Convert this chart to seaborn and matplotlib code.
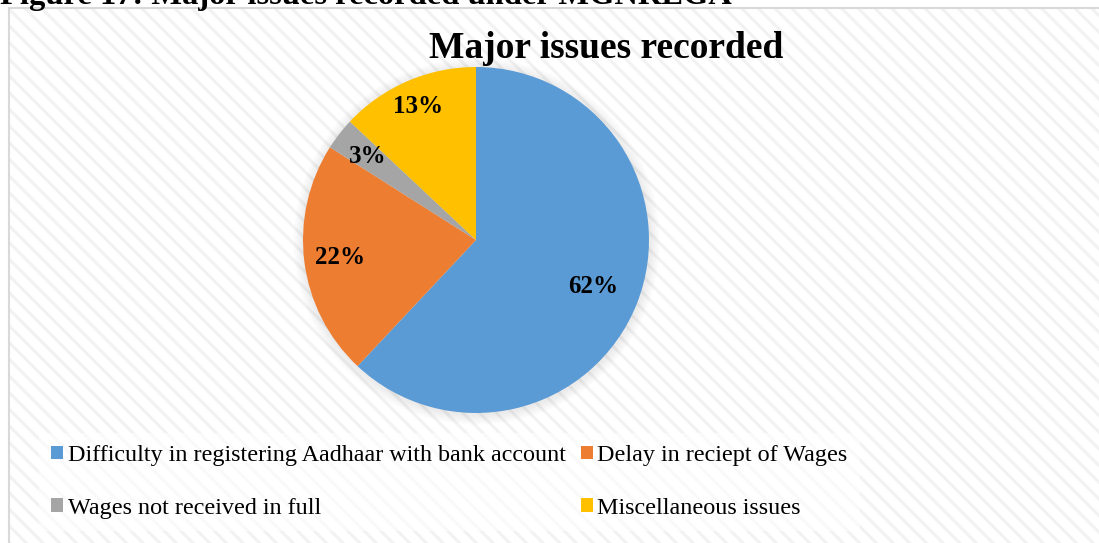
import matplotlib
matplotlib.use("Agg")
import matplotlib.pyplot as plt
from matplotlib.patches import Rectangle, Circle, Patch
import numpy as np
import seaborn as sns

# Survey shares of the major issues reported
categories = [
    "Difficulty in registering Aadhaar with bank account",
    "Delay in reciept of Wages",
    "Wages not received in full",
    "Miscellaneous issues",
]
shares = [62, 22, 3, 13]
colors = ["#5B9BD5", "#ED7D31", "#A5A5A5", "#FFC000"]
label_radius = [0.73, 0.79, 0.79, 0.84]

sns.set_theme(style="white")
plt.rcParams["font.family"] = ["Liberation Serif", "DejaVu Serif"]
plt.rcParams["text.color"] = "black"
plt.rcParams["hatch.linewidth"] = 2.2

W, H = 1099, 543
fig = plt.figure(figsize=(W / 100, H / 100), dpi=100)
fig.patch.set_facecolor("white")

def fx(px):
    return px / W

def fy(py):
    return 1 - py / H

# striped chart area background and its border
fig.patches.append(Rectangle((fx(9), -0.05), 1.2, fy(8) + 0.05, transform=fig.transFigure,
                             facecolor="white", edgecolor="#f2f2f2", linewidth=0,
                             hatch="\\\\", zorder=-3))
fig.patches.append(Rectangle((fx(9), -0.05), 1.2, fy(8) + 0.05, transform=fig.transFigure,
                             facecolor="none", edgecolor="#d9d9d9", linewidth=1.5, zorder=-2))

# caption sitting above the chart frame
fig.text(0.0, fy(4), "Figure 17: Major issues recorded under MGNREGA", ha="left",
         va="baseline", fontsize=23.4, fontweight="bold", color="black")

# pie axes: unit radius maps to 173 px
R = 173
cx, cy = 476, 240
box = 420
ax = fig.add_axes([fx(cx - box / 2), fy(cy + box / 2), box / W, box / H])
ax.set_zorder(2)
ax.patch.set_alpha(0)

wedges, _ = ax.pie(shares, colors=colors, startangle=90, counterclock=False,
                   radius=1.0, wedgeprops=dict(linewidth=0), center=(0, 0))
for w in wedges:
    w.set_zorder(2)

lim = box / 2 / R
ax.set_xlim(-lim, lim)
ax.set_ylim(-lim, lim)
ax.set_aspect("equal")
ax.axis("off")

# soft shadow around the pie
for i in range(10):
    ax.add_patch(Circle((0.004, -0.008), 1.0 + 0.006 * (i + 1), facecolor="#808080",
                        alpha=0.015, linewidth=0, zorder=0))

for w, val, rd in zip(wedges, shares, label_radius):
    mid = np.deg2rad((w.theta1 + w.theta2) / 2)
    ax.text(rd * np.cos(mid), rd * np.sin(mid), f"{val}%", ha="center", va="center",
            fontsize=18, fontweight="bold", color="black", zorder=3)

fig.text(fx(606), fy(48), "Major issues recorded", ha="center", va="center",
         fontsize=27, fontweight="bold", color="black")

# legend filled row by row: two entries per row
order = [0, 2, 1, 3]
handles = [Patch(facecolor=colors[i], edgecolor="none") for i in order]
labels = [categories[i] for i in order]
leg = fig.legend(handles, labels, ncol=2, loc="upper left",
                 bbox_to_anchor=(fx(27), fy(421)), frameon=True, fontsize=17.4,
                 handlelength=0.5, handleheight=0.5, handletextpad=0.2,
                 columnspacing=0.6, labelspacing=1.3, borderpad=0.5)
leg.get_frame().set_facecolor("white")
leg.get_frame().set_alpha(0.6)
leg.get_frame().set_edgecolor("none")
for t in leg.get_texts():
    t.set_color("black")

fig.savefig("out.png", dpi=100, facecolor="white")
